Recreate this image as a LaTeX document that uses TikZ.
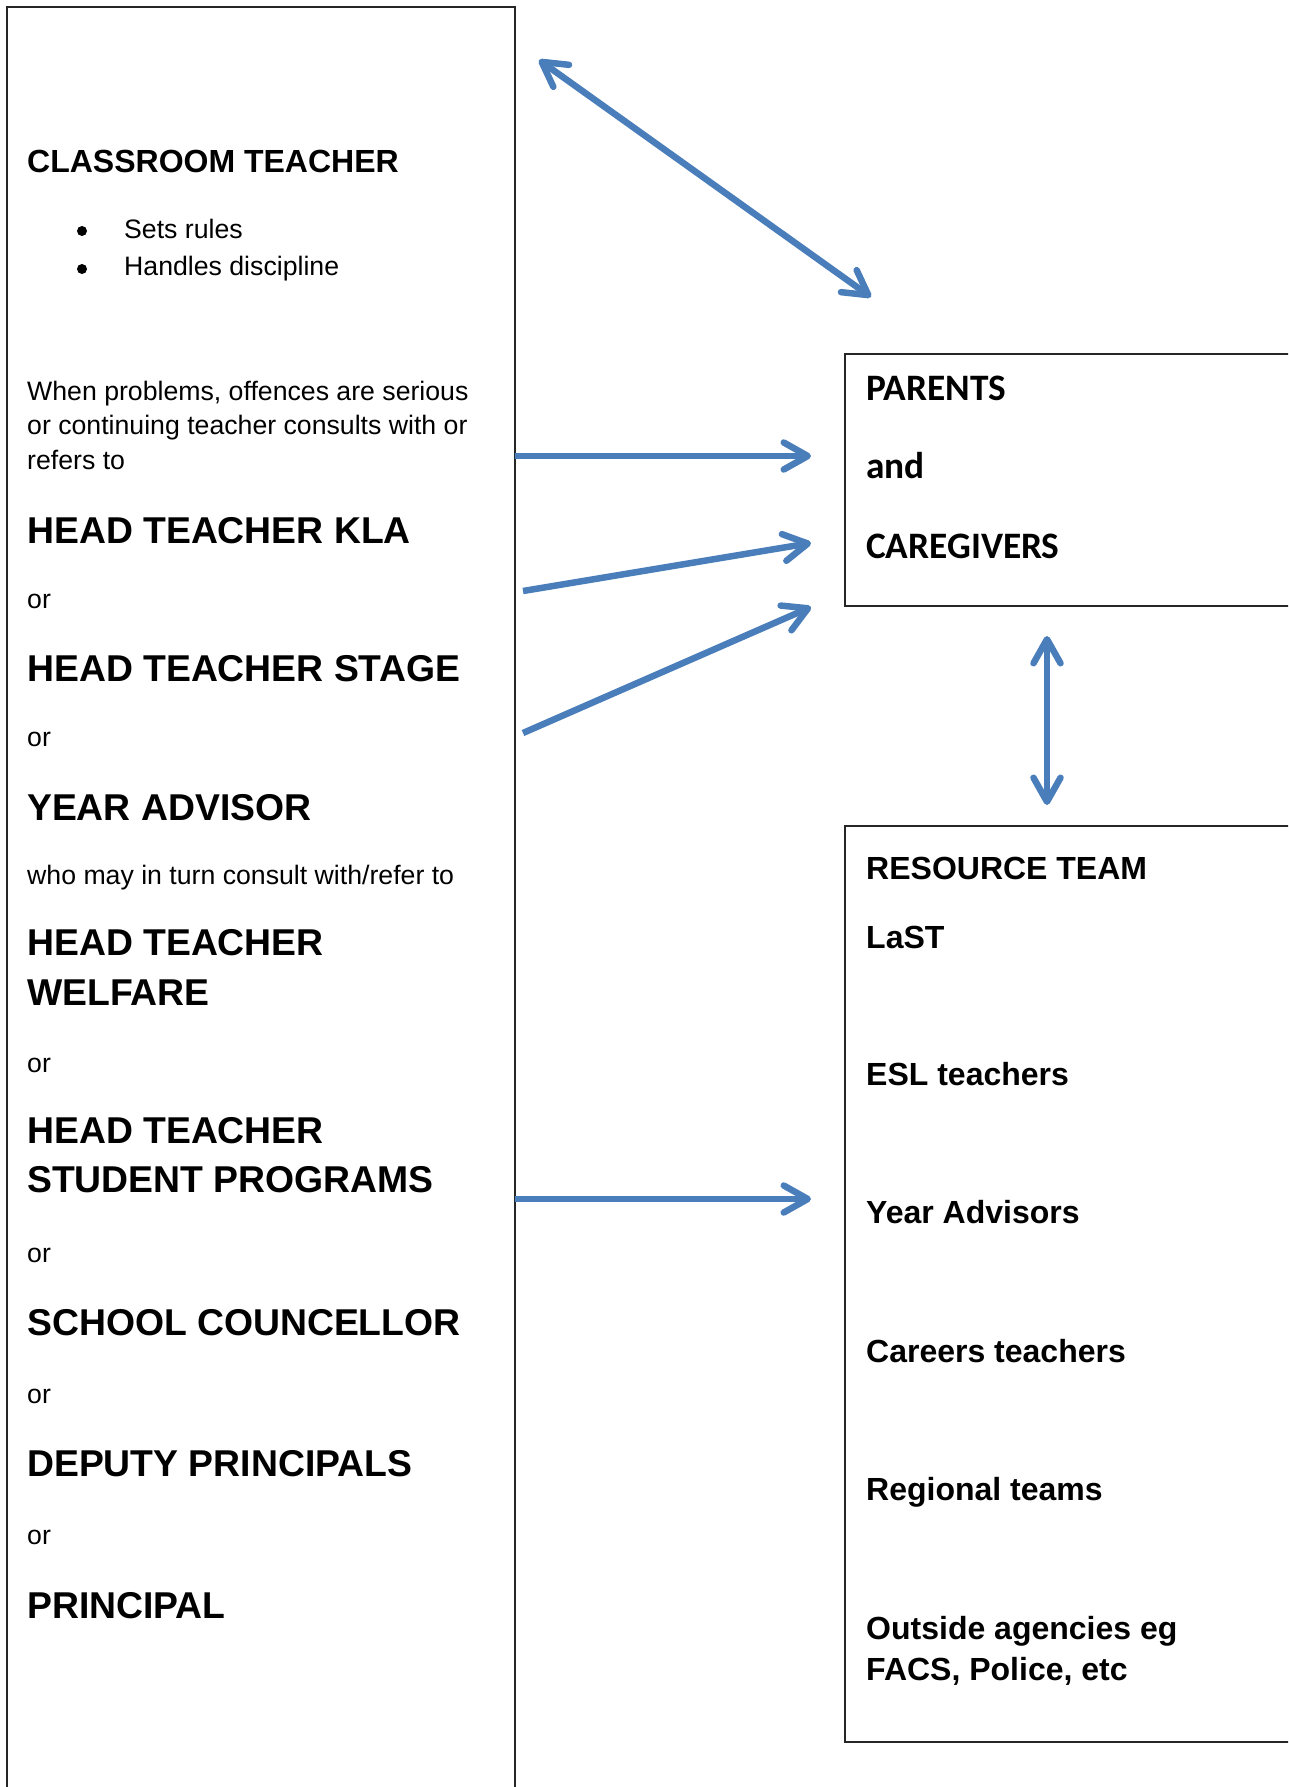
\documentclass[tikz,border=0pt]{standalone}
\usepackage{fontspec}
\setmainfont{Liberation Sans}
\newfontfamily\calibri{Carlito}
\usetikzlibrary{arrows.meta}
\definecolor{linkblue}{RGB}{74,126,187}
\tikzset{
  frame/.style={draw=black!85, line width=1.4pt, anchor=north west, inner sep=0pt, outer sep=0pt},
  body/.style={anchor=base west, inner sep=0pt, font=\fontsize{26.67}{34.5}\selectfont},
  sub/.style={anchor=base west, inner sep=0pt, font=\bfseries\fontsize{32}{40}\selectfont},
  big/.style={anchor=base west, inner sep=0pt, font=\bfseries\fontsize{37.33}{49.5}\selectfont},
  cal/.style={anchor=base west, inner sep=0pt, font=\calibri\bfseries\fontsize{37.33}{45}\selectfont},
  dot/.style={circle, fill=black, inner sep=0pt, minimum size=10pt},
  barb/.tip={Straight Barb[round, length=24pt, width=27pt]},
  link/.style={draw=linkblue, line width=6.5pt, line cap=butt, -barb},
  linkboth/.style={draw=linkblue, line width=6.5pt, line cap=butt, barb-barb},
}
\begin{document}
\begin{tikzpicture}[x=1pt, y=-1pt]
\useasboundingbox (0,0) rectangle (1288,1787);
\clip (0,0) rectangle (1288,1787);

% boxes (left column open at the bottom, right column open at the right)
\node[frame, minimum width=508pt, minimum height=1850pt] (lbox) at (7,7) {};
\node[frame, minimum width=470pt, minimum height=252pt] (pbox) at (845,354) {};
\node[frame, minimum width=470pt, minimum height=916pt] (rbox) at (845,826) {};

% left column
\node[sub]  (ct)   at (27,173)  {CLASSROOM TEACHER};
\node[dot]  (bu1)  at (82,231)  {};
\node[body] (sr)   at (124,239) {Sets rules};
\node[dot]  (bu2)  at (82,269)  {};
\node[body] (hd)   at (124,276) {Handles discipline};
\node[body] (wp1)  at (27,400)  {When problems, offences are serious};
\node[body] (wp2)  at (27,434.5){or continuing teacher consults with or};
\node[body] (wp3)  at (27,469)  {refers to};
\node[big]  (kla)  at (27,543)  {HEAD TEACHER KLA};
\node[body] (or1)  at (27,608)  {or};
\node[big]  (stg)  at (27,681)  {HEAD TEACHER STAGE};
\node[body] (or2)  at (27,746)  {or};
\node[big]  (ya)   at (27,820)  {YEAR ADVISOR};
\node[body] (who)  at (27,884)  {who may in turn consult with/refer to};
\node[big]  (wf1)  at (27,955)  {HEAD TEACHER};
\node[big]  (wf2)  at (27,1005) {WELFARE};
\node[body] (or3)  at (27,1072) {or};
\node[big]  (sp1)  at (27,1143) {HEAD TEACHER};
\node[big]  (sp2)  at (27,1192) {STUDENT PROGRAMS};
\node[body] (or4)  at (27,1262) {or};
\node[big]  (sc)   at (27,1335) {SCHOOL COUNCELLOR};
\node[body] (or5)  at (27,1403) {or};
\node[big]  (dp)   at (27,1476) {DEPUTY PRINCIPALS};
\node[body] (or6)  at (27,1544) {or};
\node[big]  (pr)   at (27,1618) {PRINCIPAL};

% parents box
\node[cal] (par) at (866,400) {PARENTS};
\node[cal] (and) at (866,478) {and};
\node[cal] (cg)  at (866,558) {CAREGIVERS};

% resource team box
\node[sub] (rt)  at (866,879)  {RESOURCE TEAM};
\node[sub] (ls)  at (866,948)  {LaST};
\node[sub] (esl) at (866,1085) {ESL teachers};
\node[sub] (yad) at (866,1223) {Year Advisors};
\node[sub] (car) at (866,1362) {Careers teachers};
\node[sub] (reg) at (866,1500) {Regional teams};
\node[sub] (oa1) at (866,1639) {Outside agencies eg};
\node[sub] (oa2) at (866,1680) {FACS, Police, etc};

% connector end points
\coordinate (a1s) at (539,60);
\coordinate (a1e) at (871,297);
\coordinate (a2s) at (lbox.north east |- 0,456);
\coordinate (a2e) at (811,456);
\coordinate (a3s) at (523,591);
\coordinate (a3e) at (811,543);
\coordinate (a4s) at (523,733);
\coordinate (a4e) at (811,607);
\coordinate (a5s) at (1047,636);
\coordinate (a5e) at (1047,805);
\coordinate (a6s) at (lbox.north east |- 0,1199);
\coordinate (a6e) at (811,1199);

% connectors
\draw[linkboth] (a1s) -- (a1e);
\draw[link] (a2s) -- (a2e);
\draw[link] (a3s) -- (a3e);
\draw[link] (a4s) -- (a4e);
\draw[linkboth] (a5s) -- (a5e);
\draw[link] (a6s) -- (a6e);
\end{tikzpicture}
\end{document}
